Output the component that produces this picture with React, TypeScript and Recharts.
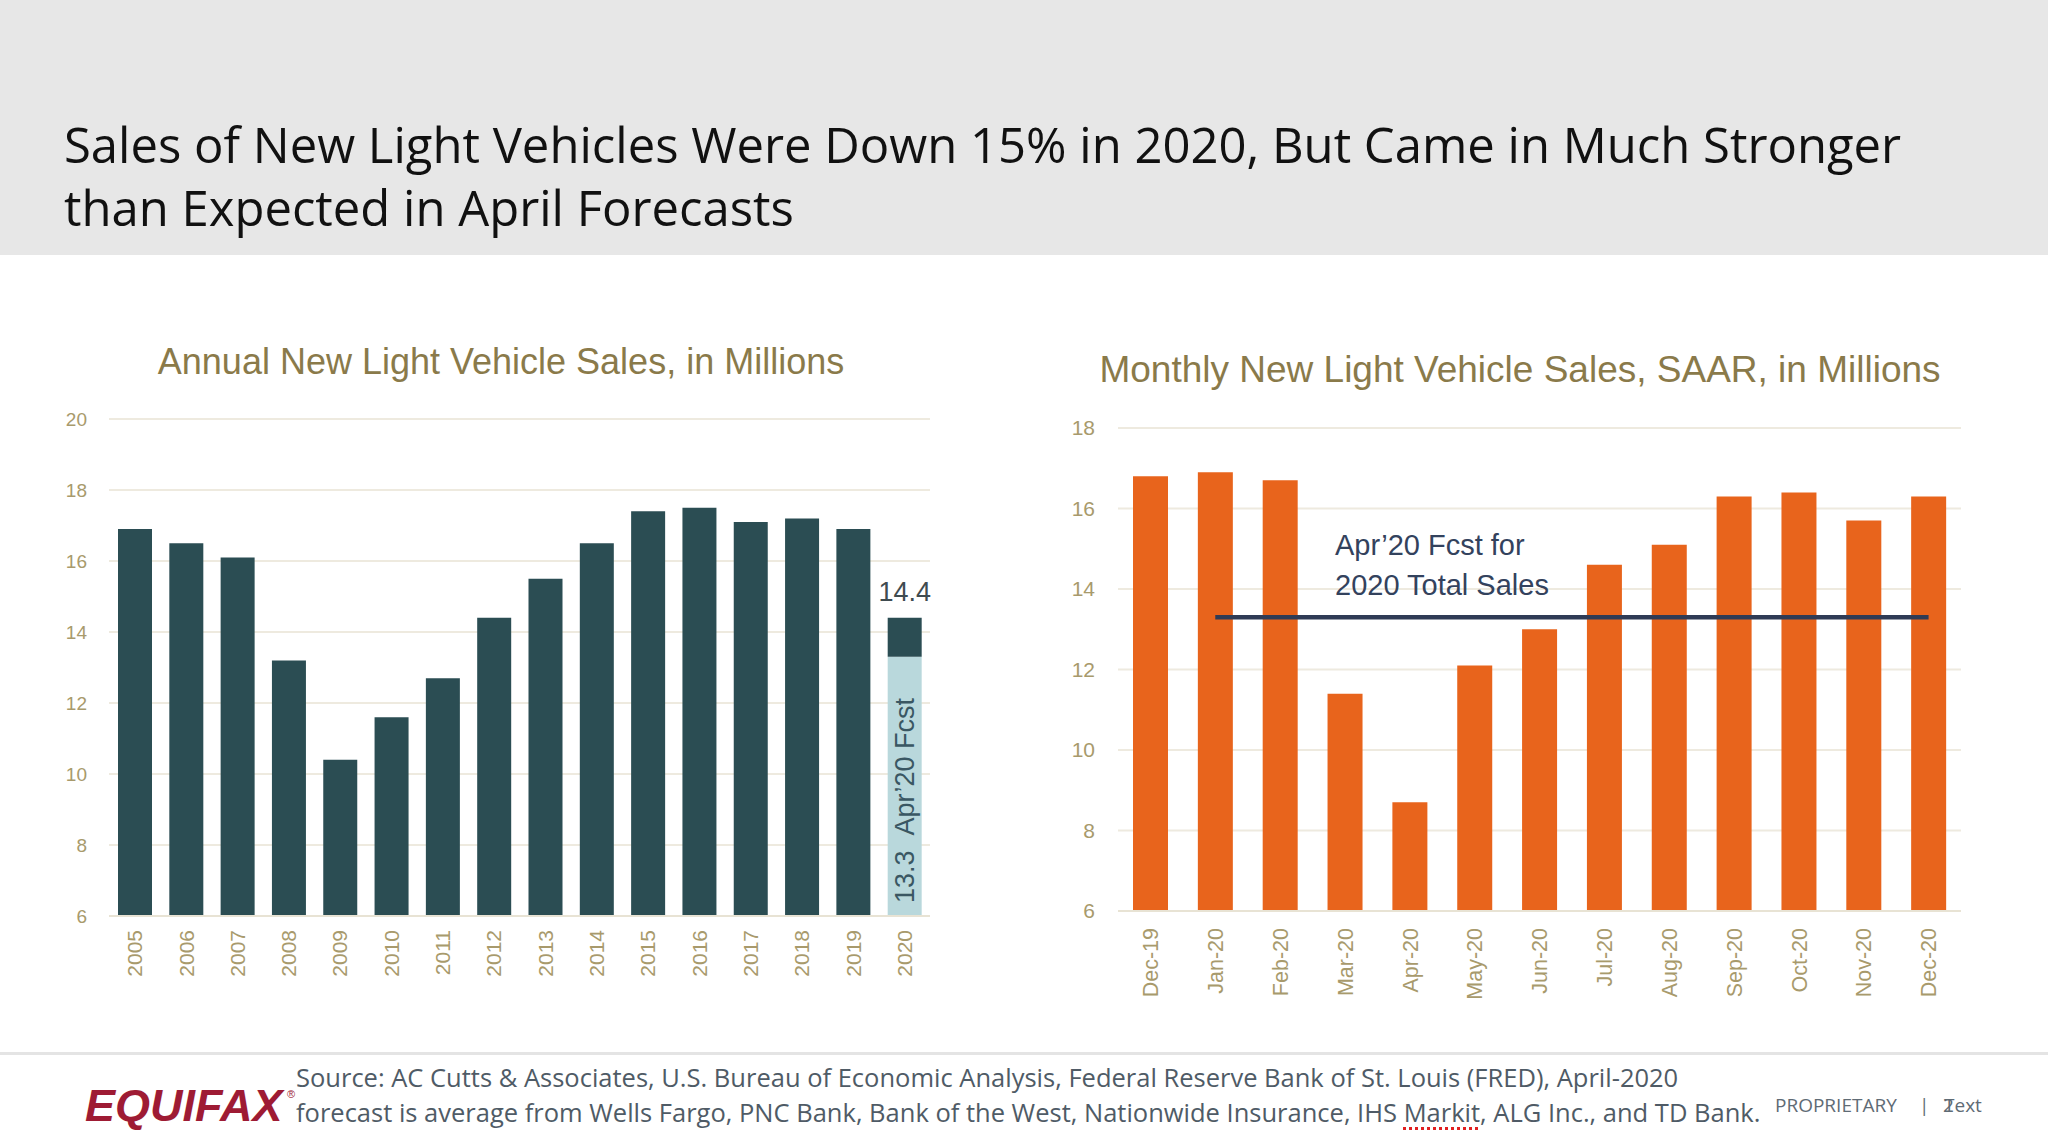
import React from "react"
import { BarChart, Bar, ComposedChart, Line, XAxis, YAxis, CartesianGrid, Cell, LabelList } from "recharts"

const years = ["2005", "2006", "2007", "2008", "2009", "2010", "2011", "2012", "2013", "2014", "2015", "2016", "2017", "2018", "2019", "2020"]
const annualSales = [16.9, 16.5, 16.1, 13.2, 10.4, 11.6, 12.7, 14.4, 15.5, 16.5, 17.4, 17.5, 17.1, 17.2, 16.9, 14.4]
const aprForecast2020 = 13.3
const annualTicks = [6, 8, 10, 12, 14, 16, 18, 20]

const months = ["Dec-19", "Jan-20", "Feb-20", "Mar-20", "Apr-20", "May-20", "Jun-20", "Jul-20", "Aug-20", "Sep-20", "Oct-20", "Nov-20", "Dec-20"]
const monthlySaar = [16.8, 16.9, 16.7, 11.4, 8.7, 12.1, 13.0, 14.6, 15.1, 16.3, 16.4, 15.7, 16.3]
const monthlyTicks = [6, 8, 10, 12, 14, 16, 18]

const DARK = "#2B4D53"
const LIGHT = "#B9D8DC"
const ORANGE = "#E8641C"
const NAVY = "#2F3B55"
const TICK = "#A89A6C"
const TITLE = "#8A7A4A"
const GRID = "#EEEADF"
const SANS = "'Liberation Sans', Arial, sans-serif"
const OPEN = "'Open Sans', 'Noto Sans', sans-serif"

const last = years.length - 1
const annualData = years.map((year, i) => ({
  year,
  base: i === last ? aprForecast2020 : annualSales[i],
  top: i === last ? annualSales[i] - aprForecast2020 : 0,
  fcstLabel: i === last ? aprForecast2020 : undefined,
  totalLabel: i === last ? annualSales[i] : undefined,
}))

const monthlyData = months.map((month, i) => ({
  month,
  saar: monthlySaar[i],
  fcst: i === 0 ? null : aprForecast2020,
}))

const RotTick = (props: any) => {
  const { x, y, payload, fontSize } = props
  return (
    <text
      x={x}
      y={y}
      transform={`rotate(-90 ${x} ${y})`}
      textAnchor="end"
      dy="0.36em"
      fill={TICK}
      fontSize={fontSize}
      fontFamily={SANS}
    >
      {payload.value}
    </text>
  )
}

const box = (props: any) => {
  const vb = props.viewBox && props.viewBox.width !== undefined ? props.viewBox : props
  return { x: Number(vb.x), y: Number(vb.y), width: Number(vb.width), height: Number(vb.height) }
}

const FcstLabel = (props: any) => {
  if (props.value === undefined || props.value === null) return null
  const { x, y, width, height } = box(props)
  const cx = x + width / 2
  const by = y + height - 13
  return (
    <text x={cx} y={by} transform={`rotate(-90 ${cx} ${by})`} textAnchor="start" dy="0.36em" fill="#3A5763" fontSize={27} fontFamily={SANS}>
      {`${props.value}\u00a0\u00a0Apr\u201920 Fcst`}
    </text>
  )
}

const TotalLabel = (props: any) => {
  if (props.value === undefined || props.value === null) return null
  const { x, y, width } = box(props)
  return (
    <text x={x + width / 2} y={y - 17} textAnchor="middle" fill="#3F4B50" fontSize={27} fontFamily={SANS}>
      {props.value}
    </text>
  )
}

function AnnualChart() {
  return (
    <BarChart width={960} height={640} data={annualData} margin={{ top: 39, right: 30, bottom: 24, left: 49 }} barSize={34}>
      <CartesianGrid vertical={false} stroke={GRID} strokeWidth={2} />
      <XAxis
        dataKey="year"
        interval={0}
        height={80}
        tickSize={0}
        tickMargin={14}
        tickLine={false}
        axisLine={{ stroke: "#E8E3D4", strokeWidth: 2 }}
        tick={<RotTick fontSize={21} />}
      />
      <YAxis
        domain={[6, 20]}
        ticks={annualTicks}
        width={60}
        tickSize={0}
        tickMargin={22}
        axisLine={false}
        tickLine={false}
        allowDataOverflow
        tick={{ fill: TICK, fontSize: 19, fontFamily: SANS }}
      />
      <Bar dataKey="base" stackId="a" isAnimationActive={false}>
        {annualData.map((d, i) => (
          <Cell key={d.year} fill={i === last ? LIGHT : DARK} />
        ))}
        <LabelList dataKey="fcstLabel" content={<FcstLabel />} />
      </Bar>
      <Bar dataKey="top" stackId="a" fill={DARK} isAnimationActive={false}>
        <LabelList dataKey="totalLabel" content={<TotalLabel />} />
      </Bar>
    </BarChart>
  )
}

function MonthlyChart() {
  return (
    <ComposedChart width={960} height={640} data={monthlyData} margin={{ top: 48, right: 39, bottom: 19, left: 18 }} barSize={35}>
      <CartesianGrid vertical={false} stroke={GRID} strokeWidth={2} />
      <XAxis
        dataKey="month"
        interval={0}
        height={90}
        tickSize={0}
        tickMargin={17}
        tickLine={false}
        axisLine={{ stroke: "#E8E3D4", strokeWidth: 2 }}
        tick={<RotTick fontSize={21.5} />}
      />
      <YAxis
        domain={[6, 18]}
        ticks={monthlyTicks}
        width={60}
        tickSize={0}
        tickMargin={23}
        axisLine={false}
        tickLine={false}
        allowDataOverflow
        tick={{ fill: TICK, fontSize: 21, fontFamily: SANS }}
      />
      <Bar dataKey="saar" fill={ORANGE} isAnimationActive={false} />
      <Line dataKey="fcst" type="linear" stroke={NAVY} strokeWidth={4.5} dot={false} activeDot={false} isAnimationActive={false} />
    </ComposedChart>
  )
}

export default function App() {
  return (
    <div style={{ position: "absolute", left: 0, top: 0, width: 2048, height: 1143, background: "#fff", overflow: "hidden" }}>
      <div style={{ position: "absolute", left: 0, top: 0, width: 2048, height: 255, background: "#E7E7E7" }} />
      <div style={{ position: "absolute", left: 0, top: 380 }}>
        <AnnualChart />
      </div>
      <div style={{ position: "absolute", left: 1040, top: 380 }}>
        <MonthlyChart />
      </div>
      <svg width={2048} height={1143} style={{ position: "absolute", left: 0, top: 0, pointerEvents: "none" }}>
        <text x={64} y={163} fontFamily={OPEN} fontSize={49} fill="#111">
          Sales of New Light Vehicles Were Down 15% in 2020, But Came in Much Stronger
        </text>
        <text x={64} y={226} fontFamily={OPEN} fontSize={49} fill="#111">
          than Expected in April Forecasts
        </text>
        <text x={501} y={374} textAnchor="middle" fontFamily={SANS} fontSize={36} fill={TITLE}>
          Annual New Light Vehicle Sales, in Millions
        </text>
        <text x={1520} y={382} textAnchor="middle" fontFamily={SANS} fontSize={37} fill={TITLE}>
          Monthly New Light Vehicle Sales, SAAR, in Millions
        </text>
        <text x={1335} y={555} fontFamily={SANS} fontSize={29} fill="#33425D">
          Apr’20 Fcst for
        </text>
        <text x={1335} y={595} fontFamily={SANS} fontSize={29} fill="#33425D">
          2020 Total Sales
        </text>
        <rect x={0} y={1052} width={2048} height={3} fill="#E4E4E4" />
        <text x={85} y={1121} fontFamily={SANS} fontSize={45} fontWeight="bold" fontStyle="italic" fill="#9E1B34">
          EQUIFAX
        </text>
        <text x={287} y={1098} fontFamily={SANS} fontSize={11} fill="#9E1B34">
          ®
        </text>
        <text x={1775} y={1112} fontFamily={OPEN} fontSize={19} fill="#5F6B75">
          PROPRIETARY
        </text>
        <text x={1919} y={1112} fontFamily={OPEN} fontSize={19} fill="#5F6B75">
          |
        </text>
        <text x={1944} y={1112} fontFamily={OPEN} fontSize={19} fill="#5F6B75">
          Text
        </text>
        <text x={1943} y={1112} fontFamily={OPEN} fontSize={19} fill="#5F6B75">
          2
        </text>
      </svg>
      <div
        style={{
          position: "absolute",
          left: 296,
          top: 1060,
          fontFamily: OPEN,
          fontSize: 25.5,
          lineHeight: "35px",
          color: "#4F5B66",
          whiteSpace: "nowrap",
        }}
      >
        Source: AC Cutts &amp; Associates, U.S. Bureau of Economic Analysis, Federal Reserve Bank of St. Louis (FRED), April-2020
        <br />
        forecast is average from Wells Fargo, PNC Bank, Bank of the West, Nationwide Insurance, IHS{" "}
        <span style={{ textDecorationLine: "underline", textDecorationStyle: "dotted", textDecorationColor: "#E02020", textDecorationThickness: 3, textUnderlineOffset: 5 }}>
          Markit
        </span>
        , ALG Inc., and TD Bank.
      </div>
    </div>
  )
}
